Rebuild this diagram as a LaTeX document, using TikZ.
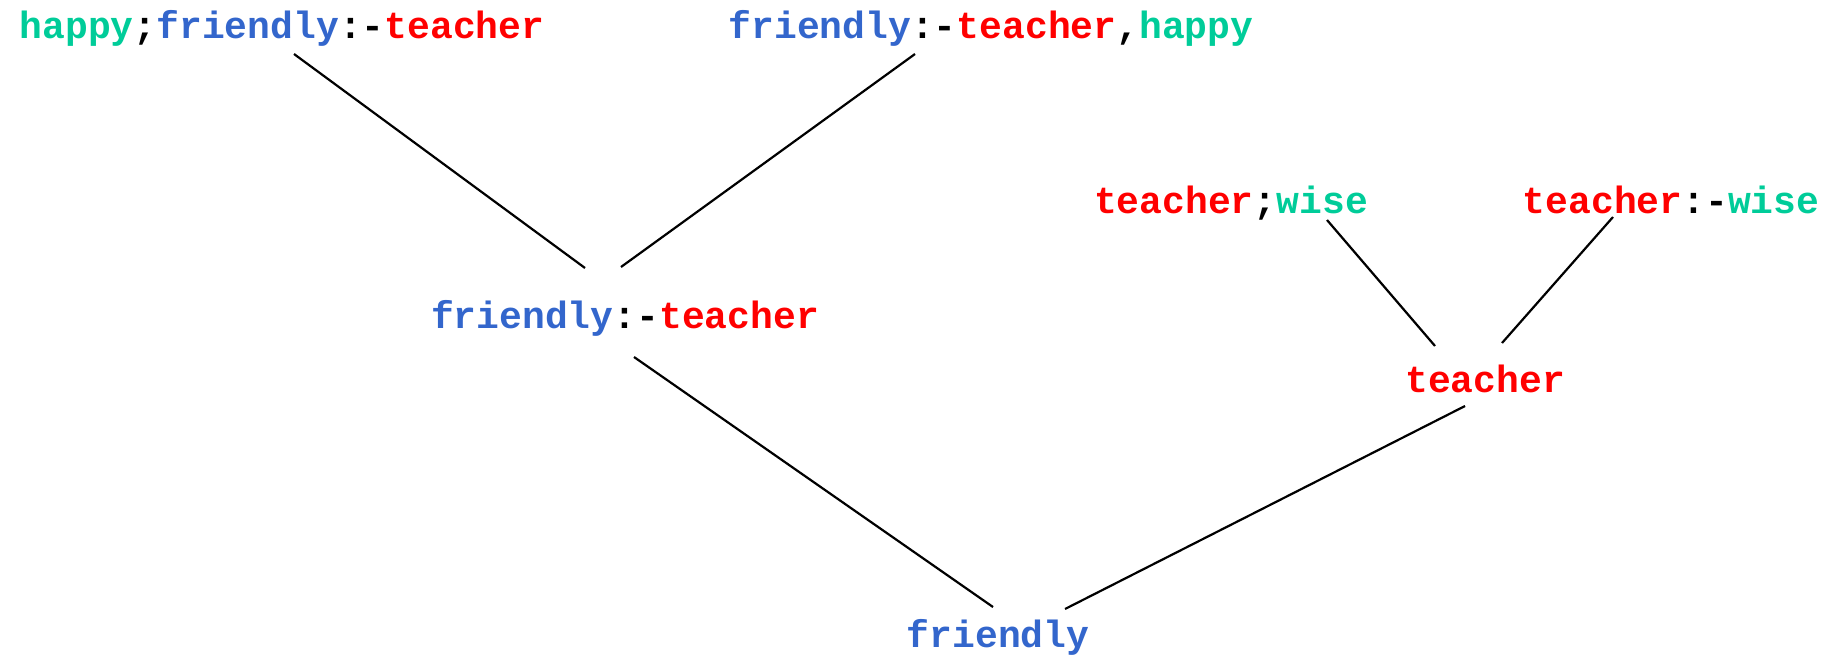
\documentclass[tikz,border=0pt]{standalone}
\usepackage{fontspec}
\setmonofont{Liberation Mono}
\usepackage{tikz}
\usetikzlibrary{positioning}
\definecolor{hgreen}{RGB}{0,204,153}
\definecolor{fblue}{RGB}{51,102,204}
\definecolor{tred}{RGB}{255,0,0}
\newcommand{\Hap}{\textcolor{hgreen}{happy}}
\newcommand{\Fri}{\textcolor{fblue}{friendly}}
\newcommand{\Tea}{\textcolor{tred}{teacher}}
\newcommand{\Wis}{\textcolor{hgreen}{wise}}

\begin{document}
\begin{tikzpicture}[x=0.5pt, y=-0.5pt,
  term/.style={anchor=base, inner sep=0pt, font=\ttfamily\bfseries\fontsize{19pt}{22pt}\selectfont},
  branch/.style={line width=1.1pt}]
\useasboundingbox (0,0) rectangle (1845,669);

% top row
\node [term] (hf) at (282,39) {\Hap;\Fri:-\Tea};
\node [term] (fh) at (991,39) {\Fri:-\Tea,\Hap};
\node [term] (tw) at (1231,213) {\Tea;\Wis};
\node [term] (tiw) at (1671,213) {\Tea:-\Wis};

% middle
\node [term] (ft) at (625,328) {\Fri:-\Tea};
\node [term] (t) at (1485,392) {\Tea};

% root
\node [term] (f) at (998,647) {\Fri};

\draw [branch] ([shift={(12,15)}]hf.base) -- ([shift={(-40,-60)}]ft.base);
\draw [branch] ([shift={(-76,15)}]fh.base) -- ([shift={(-4,-61)}]ft.base);
\draw [branch] ([shift={(96,7)}]tw.base) -- ([shift={(-50,-46)}]t.base);
\draw [branch] ([shift={(-58,4)}]tiw.base) -- ([shift={(17,-49)}]t.base);

\draw [branch] ([shift={(9,29)}]ft.base) -- ([shift={(-5,-40)}]f.base);
\draw [branch] ([shift={(-20,14)}]t.base) -- ([shift={(67,-38)}]f.base);

\end{tikzpicture}
\end{document}
